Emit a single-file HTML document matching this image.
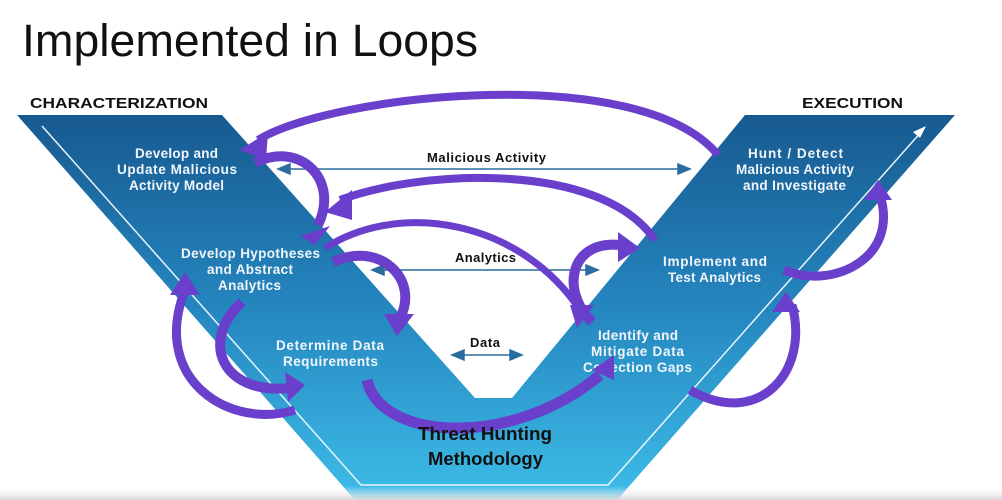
<!DOCTYPE html>
<html><head><meta charset="utf-8"><style>
html,body{margin:0;padding:0;background:#fff;}
svg{display:block;}
text{font-family:"Liberation Sans",sans-serif;}
</style></head><body>
<svg width="1002" height="500" viewBox="0 0 1002 500" xmlns="http://www.w3.org/2000/svg">
<defs>
<linearGradient id="g" x1="0" y1="115" x2="0" y2="500" gradientUnits="userSpaceOnUse">
<stop offset="0" stop-color="#175a90"/><stop offset="0.5" stop-color="#2586bf"/><stop offset="1" stop-color="#3dbde8"/>
</linearGradient>
<linearGradient id="bar" x1="0" y1="486" x2="0" y2="500" gradientUnits="userSpaceOnUse">
<stop offset="0" stop-color="#fff" stop-opacity="0"/><stop offset="1" stop-color="#d8d8d8"/>
</linearGradient>
</defs>
<text x="22" y="56" font-size="45" fill="#111" textLength="456" lengthAdjust="spacingAndGlyphs">Implemented in Loops</text>
<text x="30" y="108" font-size="15" font-weight="bold" fill="#111" textLength="178" lengthAdjust="spacingAndGlyphs">CHARACTERIZATION</text>
<text x="802" y="108" font-size="15" font-weight="bold" fill="#111" textLength="101" lengthAdjust="spacingAndGlyphs">EXECUTION</text>
<polygon points="17,115 222,115 475,398 512,398 745,115 955,115 617,500 355,500" fill="url(#g)"/>
<polyline points="42,126 361,485 608,485 922,131" fill="none" stroke="#e8f4fb" stroke-width="1.5"/>
<polygon points="926,126 913,132 920,138" fill="#fff"/>
<g stroke="#2a6da0" stroke-width="1.5" fill="#2a6da0">
<line x1="285" y1="169" x2="680" y2="169"/><polygon points="278,169 290,164 290,174"/><polygon points="690,169 678,164 678,174"/>
<line x1="380" y1="270" x2="590" y2="270"/><polygon points="372,270 384,265 384,275"/><polygon points="598,270 586,265 586,275"/>
<line x1="460" y1="355" x2="515" y2="355"/><polygon points="452,355 464,350 464,360"/><polygon points="522,355 510,350 510,360"/>
</g>
<g font-size="13" font-weight="bold" fill="#111" lengthAdjust="spacingAndGlyphs">
<text x="427" y="162" textLength="119">Malicious Activity</text>
<text x="455" y="262" textLength="61">Analytics</text>
<text x="470" y="347" textLength="30">Data</text>
</g>
<g font-size="13.5" font-weight="bold" fill="#f2f6fa" lengthAdjust="spacingAndGlyphs">
<text x="135" y="158" textLength="83">Develop and</text><text x="117" y="174" textLength="120">Update Malicious</text><text x="129" y="190" textLength="95">Activity Model</text>
<text x="181" y="258" textLength="139">Develop Hypotheses</text><text x="207" y="274" textLength="86">and Abstract</text><text x="218" y="290" textLength="63">Analytics</text>
<text x="276" y="350" textLength="108">Determine Data</text><text x="283" y="366" textLength="95">Requirements</text>
<text x="598" y="340" textLength="80">Identify and</text><text x="591" y="356" textLength="93">Mitigate Data</text><text x="583" y="372" textLength="109">Collection Gaps</text>
<text x="663" y="266" textLength="104">Implement and</text><text x="668" y="282" textLength="93">Test Analytics</text>
<text x="748" y="158" textLength="95">Hunt / Detect</text><text x="736" y="174" textLength="118">Malicious Activity</text><text x="743" y="190" textLength="103">and Investigate</text>
</g>
<g fill="none" stroke="#6a3fcc" stroke-linecap="butt">
<path d="M718,155 C640,60 330,95 258,140" stroke-width="8"/>
<path d="M655,240 C600,160 420,170 340,200" stroke-width="8"/>
<path d="M255,163 C300,140 340,180 318,225" stroke-width="10"/>
<path d="M325,248 C400,200 520,220 580,310" stroke-width="7"/>
<path d="M333,262 C380,240 420,280 400,318" stroke-width="10"/>
<path d="M592,322 C560,290 570,240 620,245" stroke-width="10"/>
<path d="M242,302 C200,340 220,395 290,388" stroke-width="10"/>
<path d="M295,410 C230,430 150,380 185,290" stroke-width="9"/>
<path d="M367,380 C380,440 510,450 600,375" stroke-width="11"/>
<path d="M690,390 C760,430 810,370 792,305" stroke-width="9"/>
<path d="M784,270 C830,290 900,260 880,195" stroke-width="9"/>
</g>
<g fill="#6a3fcc">
<polygon points="240,150 268,132 266,160"/>
<polygon points="325,212 352,190 352,220"/>
<polygon points="300,236 330,226 315,245"/>
<polygon points="577,328 594,305 570,305"/>
<polygon points="397,336 384,314 414,314"/>
<polygon points="640,248 618,232 618,262"/>
<polygon points="305,385 285,372 288,402"/>
<polygon points="185,272 170,295 200,295"/>
<polygon points="614,355 592,370 614,380"/>
<polygon points="786,292 772,312 800,312"/>
<polygon points="878,180 864,200 892,200"/>
</g>
<text x="418" y="440" font-size="18" font-weight="bold" fill="#111" textLength="134" lengthAdjust="spacingAndGlyphs">Threat Hunting</text>
<text x="428" y="465" font-size="18" font-weight="bold" fill="#111" textLength="115" lengthAdjust="spacingAndGlyphs">Methodology</text>
<rect x="0" y="486" width="1002" height="14" fill="url(#bar)"/>
</svg>
</body></html>
